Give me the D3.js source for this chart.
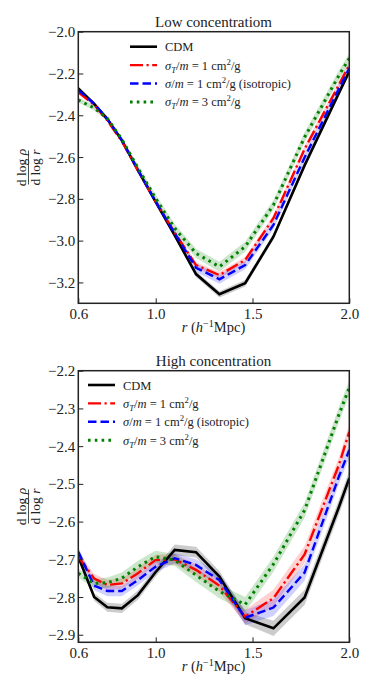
<!DOCTYPE html>
<html>
<head>
<meta charset="utf-8">
<script src="https://cdn.jsdelivr.net/npm/d3@7"></script>
<style>
  body { margin: 0; background: #fff; }
  svg { display: block; font-family: "Liberation Serif", "DejaVu Serif", serif; }
</style>
</head>
<body>
<div class="canvas"></div>
<script>
// radial bins (h^-1 Mpc)
const rGrid = [0.6, 0.682, 0.75, 0.825, 0.908, 0.998, 1.098, 1.208, 1.329, 1.462, 1.608, 1.769, 1.946, 2.0];

// low concentration: dlog rho / dlog r
const lowCDM  = [-2.271, -2.345, -2.418, -2.52, -2.662, -2.812, -2.975, -3.16, -3.257, -3.204, -2.981, -2.64, -2.294, -2.19];
const lowSigT1 = [-2.29, -2.35, -2.425, -2.525, -2.665, -2.81, -2.962, -3.117, -3.165, -3.093, -2.893, -2.562, -2.254, -2.16];
const lowIso  = [-2.279, -2.345, -2.418, -2.52, -2.662, -2.81, -2.965, -3.13, -3.185, -3.117, -2.925, -2.602, -2.274, -2.175];
const lowSigT3 = [-2.327, -2.365, -2.415, -2.515, -2.652, -2.795, -2.94, -3.061, -3.125, -3.029, -2.83, -2.505, -2.21, -2.127];
const lowErr = {
  CDM:   [0.008, 0.008, 0.008, 0.008, 0.01, 0.01, 0.012, 0.014, 0.015, 0.015, 0.015, 0.015, 0.015, 0.015],
  sigT1: [0.008, 0.008, 0.008, 0.008, 0.01, 0.01, 0.012, 0.014, 0.015, 0.015, 0.015, 0.015, 0.015, 0.015],
  iso:   [0.01, 0.01, 0.01, 0.01, 0.012, 0.014, 0.016, 0.02, 0.022, 0.02, 0.02, 0.02, 0.02, 0.02],
  sigT3: [0.012, 0.012, 0.012, 0.012, 0.015, 0.018, 0.02, 0.022, 0.024, 0.024, 0.024, 0.024, 0.024, 0.024]
};

// high concentration
const highCDM  = [-2.693, -2.80, -2.827, -2.83, -2.795, -2.735, -2.675, -2.681, -2.746, -2.856, -2.883, -2.801, -2.562, -2.485];
const highSigT1 = [-2.693, -2.751, -2.768, -2.764, -2.737, -2.702, -2.70, -2.728, -2.77, -2.852, -2.803, -2.687, -2.45, -2.362];
const highIso  = [-2.68, -2.77, -2.784, -2.784, -2.755, -2.72, -2.697, -2.715, -2.755, -2.855, -2.828, -2.735, -2.481, -2.41];
const highSigT3 = [-2.737, -2.764, -2.762, -2.75, -2.72, -2.693, -2.702, -2.742, -2.785, -2.82, -2.713, -2.57, -2.317, -2.245];
const highErr = {
  CDM:   [0.01, 0.01, 0.012, 0.012, 0.012, 0.012, 0.014, 0.014, 0.015, 0.016, 0.02, 0.02, 0.02, 0.02],
  sigT1: [0.012, 0.012, 0.014, 0.014, 0.014, 0.014, 0.014, 0.015, 0.016, 0.018, 0.022, 0.022, 0.02, 0.02],
  iso:   [0.012, 0.012, 0.014, 0.014, 0.014, 0.014, 0.014, 0.015, 0.016, 0.02, 0.022, 0.022, 0.02, 0.02],
  sigT3: [0.012, 0.012, 0.014, 0.015, 0.016, 0.016, 0.016, 0.018, 0.018, 0.02, 0.02, 0.02, 0.02, 0.02]
};

const xTicks = [0.6, 1.0, 1.5, 2.0];
const lowYTicks = [-2.0, -2.2, -2.4, -2.6, -2.8, -3.0, -3.2];
const highYTicks = [-2.2, -2.3, -2.4, -2.5, -2.6, -2.7, -2.8, -2.9];

// line styles
const styles = {
  CDM:   { color: '#000', fill: 'rgba(0,0,0,0.2)', width: 2.6, dash: null },
  sigT1: { color: '#f00', fill: 'rgba(255,0,0,0.18)', width: 2.4, dash: '13,3.5,2.2,3.5' },
  iso:   { color: '#00f', fill: 'rgba(0,0,255,0.18)', width: 2.4, dash: '8.5,4' },
  sigT3: { color: '#007f00', fill: 'rgba(0,128,0,0.2)', width: 3, dash: '2.6,4.2' }
};

// legend labels as pieces: t text, i italic, sub / sup
const legendLabels = {
  CDM:   [{ t: 'CDM' }],
  sigT1: [{ t: 'σ', i: 1 }, { t: 'T', i: 1, sub: 1 }, { t: '/', i: 0 }, { t: 'm', i: 1 }, { t: ' = 1 cm' }, { t: '2', sup: 1 }, { t: '/g' }],
  iso:   [{ t: 'σ', i: 1 }, { t: '/', i: 0 }, { t: 'm', i: 1 }, { t: ' = 1 cm' }, { t: '2', sup: 1 }, { t: '/g (isotropic)' }],
  sigT3: [{ t: 'σ', i: 1 }, { t: 'T', i: 1, sub: 1 }, { t: '/', i: 0 }, { t: 'm', i: 1 }, { t: ' = 3 cm' }, { t: '2', sup: 1 }, { t: '/g' }]
};
const order = ['CDM', 'sigT1', 'iso', 'sigT3'];

const W = 374, H = 694;
const svg = d3.select('.canvas').append('svg')
    .attr('width', W)
    .attr('height', H);

function addRich(textSel, parts) {
    let shift = 0;
    parts.forEach(p => {
        const target = p.sub ? 3 : p.sup ? -5 : 0;
        const ts = textSel.append('tspan').text(p.t);
        if (p.i) ts.attr('font-style', 'italic');
        if (p.sub || p.sup) ts.attr('font-size', '70%');
        if (target !== shift) { ts.attr('dy', target - shift); shift = target; }
    });
}

function panel(cfg) {
    const x = d3.scaleLinear().domain([0.6, 2.0]).range([78.3, 349.3]);
    const y = d3.scaleLinear().domain(cfg.yDomain).range([cfg.bottom, cfg.top]);
    const g = svg.append('g');

    g.append('clipPath').attr('id', cfg.id)
      .append('rect')
        .attr('x', x.range()[0]).attr('y', cfg.top)
        .attr('width', x.range()[1] - x.range()[0])
        .attr('height', cfg.bottom - cfg.top);

    const plot = g.append('g').attr('clip-path', `url(#${cfg.id})`);

    const area = d3.area()
        .x(d => x(d.r))
        .y0(d => y(d.v - d.e))
        .y1(d => y(d.v + d.e));
    const line = d3.line()
        .x(d => x(d.r))
        .y(d => y(d.v));

    // bands first, then lines on top
    order.forEach(k => {
        const pts = rGrid.map((r, i) => ({ r, v: cfg.series[k][i], e: cfg.err[k][i] }));
        plot.append('path')
            .attr('d', area(pts))
            .attr('fill', styles[k].fill);
    });
    order.forEach(k => {
        const pts = rGrid.map((r, i) => ({ r, v: cfg.series[k][i] }));
        plot.append('path')
            .attr('d', line(pts))
            .attr('fill', 'none')
            .attr('stroke', styles[k].color)
            .attr('stroke-width', styles[k].width)
            .attr('stroke-dasharray', styles[k].dash);
    });

    // axes with inward ticks
    const yAxis = g.append('g')
        .attr('transform', `translate(${x.range()[0]},0)`)
        .call(d3.axisLeft(y).tickValues(cfg.yTicks).tickSizeInner(-5).tickSizeOuter(0)
            .tickPadding(3).tickFormat(d3.format('.1f')));
    const xAxis = g.append('g')
        .attr('transform', `translate(0,${cfg.bottom})`)
        .call(d3.axisBottom(x).tickValues(xTicks).tickSizeInner(-5).tickSizeOuter(0)
            .tickPadding(5).tickFormat(d3.format('.1f')));
    [xAxis, yAxis].forEach(a => {
        a.select('.domain').remove();
        a.attr('font-family', '"Liberation Serif", serif');
        a.selectAll('text').attr('font-family', '"Liberation Serif", serif')
            .attr('font-size', 15).attr('fill', '#222');
        a.selectAll('line').attr('stroke', '#222').attr('stroke-width', 1);
    });
    yAxis.selectAll('text').attr('dy', '0.34em');

    g.append('rect')
        .attr('x', x.range()[0]).attr('y', cfg.top)
        .attr('width', x.range()[1] - x.range()[0])
        .attr('height', cfg.bottom - cfg.top)
        .attr('fill', 'none')
        .attr('stroke', '#222')
        .attr('stroke-width', 1.5);

    // title
    g.append('text')
        .attr('x', 213.5).attr('y', cfg.top - 4.5)
        .attr('text-anchor', 'middle')
        .attr('font-size', 15).attr('fill', '#222')
        .text(cfg.title);

    // x label
    const xl = g.append('text')
        .attr('x', 213.5).attr('y', cfg.bottom + 29)
        .attr('text-anchor', 'middle')
        .attr('font-size', 14.5).attr('fill', '#222');
    addRich(xl, [{ t: 'r', i: 1 }, { t: ' (' }, { t: 'h', i: 1 }, { t: '−1', sup: 1 }, { t: 'Mpc)' }]);

    // y label: fraction, rotated
    const cy = (cfg.top + cfg.bottom) / 2;
    const yl = g.append('g').attr('transform', `translate(28.5,${cy}) rotate(-90)`);
    yl.append('line').attr('x1', -17).attr('x2', 17).attr('y1', 0).attr('y2', 0)
        .attr('stroke', '#222').attr('stroke-width', 0.8);
    const num = yl.append('text').attr('y', -3).attr('text-anchor', 'middle')
        .attr('font-size', 13.5).attr('fill', '#222');
    addRich(num, [{ t: 'd log ' }, { t: 'ρ', i: 1 }]);
    const den = yl.append('text').attr('y', 11).attr('text-anchor', 'middle')
        .attr('font-size', 13.5).attr('fill', '#222');
    addRich(den, [{ t: 'd log ' }, { t: 'r', i: 1 }]);

    // legend
    order.forEach((k, i) => {
        const ly = cfg.legend.y + i * 18.4;
        g.append('line')
            .attr('x1', cfg.legend.x).attr('x2', cfg.legend.x + 27)
            .attr('y1', ly).attr('y2', ly)
            .attr('stroke', styles[k].color)
            .attr('stroke-width', styles[k].width)
            .attr('stroke-dasharray', styles[k].dash);
        const t = g.append('text')
            .attr('x', cfg.legend.x + 35).attr('y', ly + 4.5)
            .attr('font-size', 12.5).attr('fill', '#222');
        addRich(t, legendLabels[k]);
    });
}

panel({
    id: 'clipLow', title: 'Low concentratiom',
    top: 31.7, bottom: 303.3, yDomain: [-3.3, -2.0], yTicks: lowYTicks,
    series: { CDM: lowCDM, sigT1: lowSigT1, iso: lowIso, sigT3: lowSigT3 },
    err: lowErr,
    legend: { x: 130, y: 46.7 }
});

panel({
    id: 'clipHigh', title: 'High concentration',
    top: 370.7, bottom: 642.3, yDomain: [-2.92, -2.2], yTicks: highYTicks,
    series: { CDM: highCDM, sigT1: highSigT1, iso: highIso, sigT3: highSigT3 },
    err: highErr,
    legend: { x: 88, y: 385 }
});
</script>
</body>
</html>
